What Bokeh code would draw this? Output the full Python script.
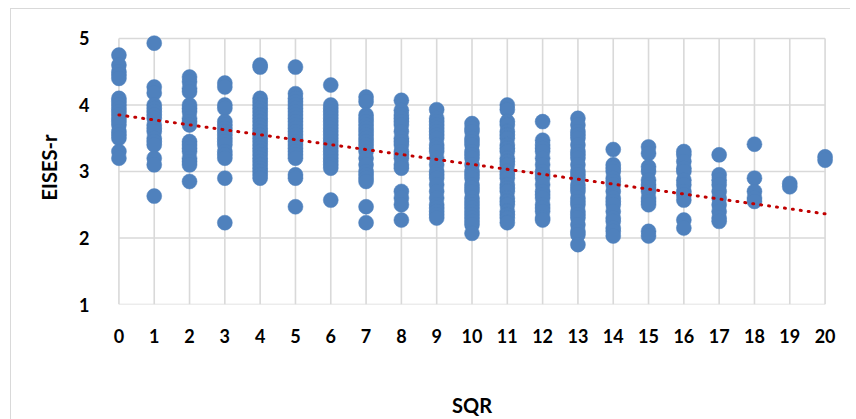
from bokeh.plotting import figure
from bokeh.models import FixedTicker, ColumnDataSource
from bokeh.embed import file_html
from bokeh.resources import INLINE

# ---- data ----
x_ticks = list(range(0, 21))
y_ticks = [1, 2, 3, 4, 5]

eises_r_by_sqr = {
    0: [4.75, 4.6, 4.5, 4.45, 4.4, 4.1, 4.05, 4.0, 3.95, 3.9, 3.85, 3.8, 3.75, 3.7, 3.6, 3.55, 3.5, 3.3, 3.2],
    1: [4.93, 4.27, 4.18, 4.0, 3.95, 3.9, 3.85, 3.8, 3.7, 3.65, 3.6, 3.5, 3.45, 3.4, 3.2, 3.1, 2.63],
    2: [4.42, 4.35, 4.25, 4.2, 4.0, 3.95, 3.9, 3.8, 3.75, 3.7, 3.45, 3.4, 3.35, 3.3, 3.2, 3.15, 3.1, 2.85],
    3: [4.33, 4.27, 4.0, 3.95, 3.75, 3.7, 3.65, 3.6, 3.55, 3.5, 3.45, 3.4, 3.3, 3.25, 3.2, 2.9, 2.23],
    4: [4.6, 4.57, 4.1, 4.05, 4.0, 3.95, 3.9, 3.85, 3.8, 3.75, 3.7, 3.65, 3.6, 3.55, 3.5, 3.45, 3.4,
        3.35, 3.3, 3.25, 3.2, 3.15, 3.1, 3.05, 3.0, 2.95, 2.9],
    5: [4.57, 4.17, 4.1, 4.05, 4.0, 3.95, 3.9, 3.85, 3.8, 3.75, 3.7, 3.65, 3.6, 3.55, 3.5, 3.45, 3.4,
        3.35, 3.3, 3.25, 3.2, 2.95, 2.9, 2.47],
    6: [4.3, 4.0, 3.95, 3.9, 3.85, 3.8, 3.75, 3.7, 3.65, 3.6, 3.55, 3.5, 3.45, 3.4, 3.35, 3.3, 3.25,
        3.2, 3.15, 3.1, 3.05, 2.57],
    7: [4.12, 4.05, 3.85, 3.8, 3.75, 3.7, 3.65, 3.6, 3.55, 3.5, 3.45, 3.4, 3.35, 3.3, 3.2, 3.1, 3.0,
        2.95, 2.9, 2.85, 2.47, 2.23],
    8: [4.07, 3.92, 3.85, 3.8, 3.75, 3.7, 3.6, 3.5, 3.45, 3.4, 3.3, 3.25, 3.2, 3.1, 3.05, 2.7, 2.6, 2.5, 2.27],
    9: [3.93, 3.8, 3.75, 3.7, 3.65, 3.6, 3.55, 3.5, 3.4, 3.35, 3.3, 3.2, 3.1, 3.0, 2.95, 2.9, 2.8,
        2.7, 2.6, 2.5, 2.45, 2.4, 2.35, 2.3],
    10: [3.72, 3.65, 3.6, 3.5, 3.45, 3.4, 3.3, 3.25, 3.2, 3.1, 3.0, 2.95, 2.9, 2.8, 2.75, 2.7, 2.6,
         2.55, 2.5, 2.45, 2.4, 2.35, 2.3, 2.25, 2.2, 2.07],
    11: [4.0, 3.93, 3.75, 3.7, 3.6, 3.55, 3.5, 3.4, 3.35, 3.3, 3.2, 3.15, 3.1, 3.0, 2.95, 2.9, 2.8,
         2.75, 2.7, 2.6, 2.55, 2.5, 2.4, 2.35, 2.3, 2.23],
    12: [3.75, 3.47, 3.4, 3.35, 3.3, 3.2, 3.1, 3.0, 2.95, 2.9, 2.8, 2.7, 2.65, 2.6, 2.5, 2.45, 2.4, 2.3, 2.27],
    13: [3.8, 3.7, 3.6, 3.55, 3.5, 3.4, 3.3, 3.25, 3.2, 3.1, 3.0, 2.95, 2.9, 2.8, 2.75, 2.7, 2.6,
         2.55, 2.5, 2.4, 2.35, 2.3, 2.2, 2.1, 2.05, 1.9],
    14: [3.33, 3.1, 3.05, 3.0, 2.9, 2.85, 2.8, 2.7, 2.6, 2.55, 2.5, 2.4, 2.3, 2.25, 2.15, 2.1, 2.03],
    15: [3.37, 3.27, 3.07, 3.0, 2.87, 2.8, 2.75, 2.7, 2.6, 2.55, 2.5, 2.1, 2.03],
    16: [3.3, 3.25, 3.15, 3.05, 3.0, 2.87, 2.8, 2.7, 2.65, 2.57, 2.27, 2.15],
    17: [3.25, 2.95, 2.87, 2.8, 2.7, 2.6, 2.5, 2.4, 2.3, 2.25],
    18: [3.41, 2.9, 2.7, 2.6, 2.55],
    19: [2.82, 2.77],
    20: [3.22, 3.17],
}

trend_intercept = 3.85
trend_slope = -0.0743

# ---- build columns ----
sqr = []
eises = []
for k, vals in eises_r_by_sqr.items():
    sqr.extend([k] * len(vals))
    eises.extend(vals)
src = ColumnDataSource(dict(x=sqr, y=eises))

trend_x = [x_ticks[0], x_ticks[-1]]
trend_y = [trend_intercept + trend_slope * v for v in trend_x]

FONT = "Lato"

p = figure(frame_width=745, frame_height=274, output_backend="svg", toolbar_location=None,
           x_range=(-0.55, 20.55), y_range=(1, 5.12),
           min_border_left=88, min_border_right=6, min_border_top=21, min_border_bottom=96)
p.margin = (8, 0, 0, 10)
p.styles = {"border-left": "1px solid #d9d9d9", "border-top": "1px solid #d9d9d9"}
p.outline_line_color = None
p.background_fill_color = "white"
p.border_fill_color = "white"
p.xgrid.visible = False
p.ygrid.visible = False

grid_color = "#d9d9d9"
# gridlines limited to the tick span
p.segment(x0=x_ticks, x1=x_ticks, y0=[y_ticks[0]] * len(x_ticks), y1=[y_ticks[-1]] * len(x_ticks),
          line_color=grid_color, line_width=1.6)
p.segment(x0=[x_ticks[0]] * len(y_ticks), x1=[x_ticks[-1]] * len(y_ticks), y0=y_ticks, y1=y_ticks,
          line_color=grid_color, line_width=1.6)

p.scatter("x", "y", source=src, size=15, fill_color="#4F81BD", line_color="#4F81BD", line_width=0.5)

p.line(trend_x, trend_y, line_color="#C00000", line_width=3, line_dash="1 7", line_cap="round")

for ax in (p.xaxis[0], p.yaxis[0]):
    ax.axis_line_color = None
    ax.major_tick_line_color = None
    ax.minor_tick_line_color = None
    ax.major_label_text_font = FONT
    ax.major_label_text_font_style = "bold"
    ax.major_label_text_font_size = "18px"
    ax.major_label_text_color = "#000000"
    ax.axis_label_text_font = FONT
    ax.axis_label_text_font_style = "bold"
    ax.axis_label_text_font_size = "20px"
    ax.axis_label_text_color = "#000000"

p.xaxis.ticker = FixedTicker(ticks=x_ticks)
p.yaxis.ticker = FixedTicker(ticks=y_ticks)
p.xaxis.axis_label = "SQR"
p.yaxis.axis_label = "EISES-r"
p.xaxis.major_label_standoff = 18
p.xaxis.axis_label_standoff = 47
p.yaxis.major_label_standoff = 4
p.yaxis.axis_label_standoff = 15

open("out.html", "w").write(file_html(p, INLINE))
